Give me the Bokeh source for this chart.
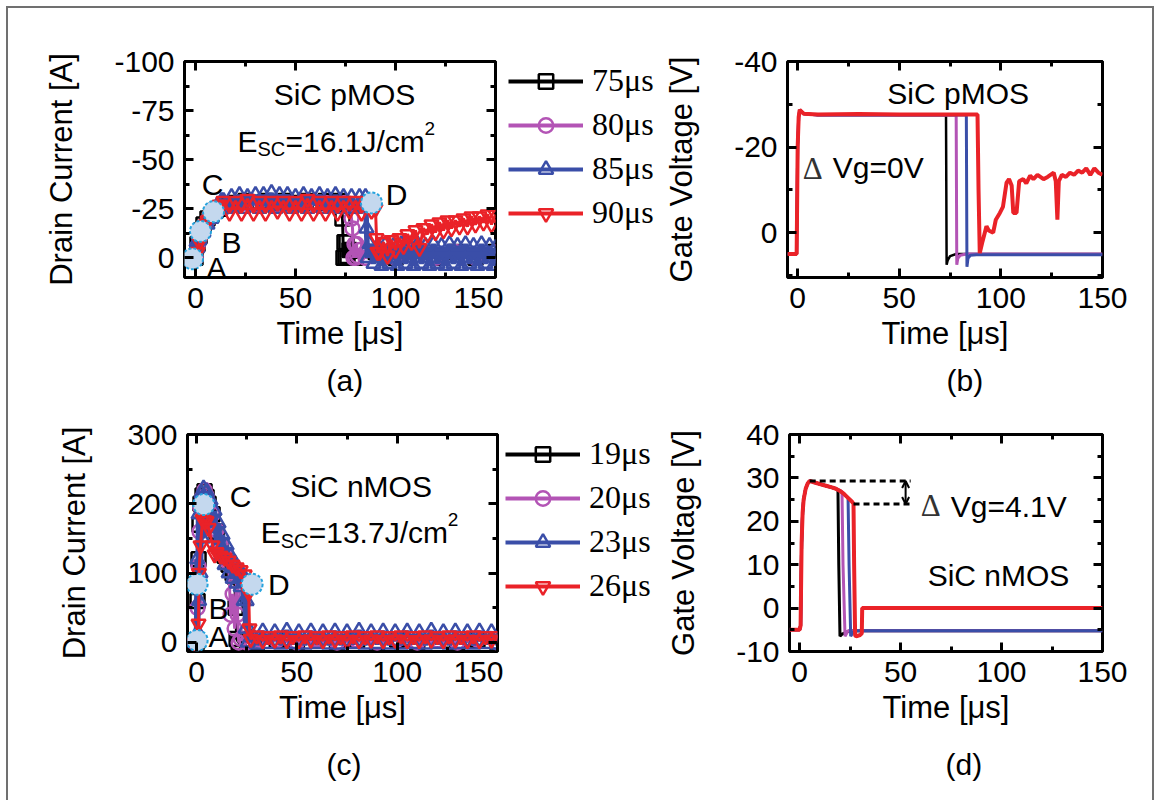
from bokeh.plotting import figure
from bokeh.models import (Range1d, FixedTicker, LinearAxis, Legend, LegendItem,
                          Title, Arrow, OpenHead)
from bokeh.layouts import column, row
from bokeh.embed import file_html
from bokeh.resources import INLINE
from bokeh.core.properties import value

# ---------------- data ----------------
series_a = ["75μs", "80μs", "85μs", "90μs"]
series_c = ["19μs", "20μs", "23μs", "26μs"]

x_ticks = [0, 50, 100, 150]
x_labels = ["0", "50", "100", "150"]
x_minor = [25, 75, 125]
ya_ticks = [-100, -75, -50, -25, 0]
ya_labels = ["-100", "-75", "-50", "-25", "0"]
ya_minor = [-87.5, -62.5, -37.5, -12.5]
yb_ticks = [-40, -20, 0]
yb_labels = ["-40", "-20", "0"]
yb_minor = [-30, -10, 10]
yc_ticks = [0, 100, 200, 300]
yc_labels = ["0", "100", "200", "300"]
yc_minor = [50, 150, 250]
yd_ticks = [-10, 0, 10, 20, 30, 40]
yd_labels = ["-10", "0", "10", "20", "30", "40"]
yd_minor = [-5, 5, 15, 25, 35]

# (a) pMOS drain current
t_a75 = [0, 1, 2, 3, 4, 6, 8, 10, 12, 15, 20, 25, 30, 35, 40, 45, 50, 55, 60, 65, 70, 72,
         73, 73.5, 74, 74.5, 75, 75.5, 76, 77, 80, 90, 100, 110, 120, 130, 140, 150]
i_a75 = [0, -7, -11, -14, -17, -20, -22, -24, -25, -27, -28, -29, -28, -29, -28, -29, -28, -29, -28, -29, -28, -29,
         -27, -20, 0, -8, 0, -8, -1, -4, 0, -3, 0, -4, 0, -3, 0, -3]
t_a80 = [0, 1, 2, 3, 4, 6, 8, 10, 12, 15, 20, 25, 30, 35, 40, 45, 50, 55, 60, 65, 70, 75,
         77, 78, 78.5, 79, 79.5, 80, 80.5, 81, 82, 85, 90, 100, 110, 120, 130, 140, 150]
i_a80 = [0, -6, -10, -14, -16, -19, -22, -23, -25, -26, -27, -28, -27, -28, -27, -28, -27, -28, -27, -28, -27, -28,
         -27, -20, -15, 0, -7, 0, -7, -1, -4, 0, -3, 0, -4, 0, -3, 0, -3]
t_a85 = [0, 0.5, 1, 1.5, 2, 3, 4, 5, 6, 7, 8, 9, 10, 11, 12, 13,
         14, 16, 18, 20, 22, 24, 26, 28, 30, 32, 34, 36, 38, 40, 42, 44, 46, 48, 50, 52, 54, 56, 58, 60,
         62, 64, 66, 68, 70, 72, 74, 76, 78, 80, 82, 84, 85, 85.5, 86,
         87, 89, 91, 93, 95, 97, 99, 101, 103, 105, 107, 109, 111, 113, 115, 117, 119, 121, 123, 125,
         127, 129, 131, 133, 135, 137, 139, 141, 143, 145, 147, 149, 150]
i_a85 = [0, -8, -5, -12, -9, -16, -13, -19, -17, -22, -20, -25, -23, -27, -25, -29,
         -29, -25, -31, -26, -32, -25, -31, -27, -32, -25, -32, -26, -33, -25, -32, -27, -32, -25, -31, -26, -32, -25, -31, -27,
         -32, -25, -31, -26, -32, -25, -31, -27, -31, -25, -31, -26, -31, -15, 0,
         -7, 3, -6, 4, -7, 3, -6, 4, -7, 3, -6, 4, -7, 3, -6, 4, -7, 3, -6, 4,
         -7, 3, -6, 4, -7, 3, -6, 4, -7, 3, -6, 4, -5]
t_a90 = [0, 1, 2, 3, 4, 5, 6, 7, 8, 9, 10, 12,
         14, 17, 20, 23, 26, 29, 32, 35, 38, 41, 44, 47, 50, 53, 56, 59, 62, 65, 68, 71, 74, 77, 80, 83, 86, 88,
         89, 90, 90.5, 91,
         92, 94, 96, 98, 100, 102, 104, 106, 108, 110, 112, 114, 116, 118, 120, 122, 124, 126, 128, 130,
         132, 134, 136, 138, 140, 142, 144, 146, 148, 150]
i_a90 = [0, -3, -8, -11, -14, -17, -19, -21, -22, -24, -25, -27,
         -29, -23, -29, -23, -30, -23, -29, -23, -29, -24, -29, -23, -29, -23, -30, -23, -29, -23, -29, -23, -29, -24, -29, -23, -28, -24,
         -28, -25, -10, -3,
         -3, -8, -1, -9, -4, -10, -6, -12, -8, -14, -5, -15, -12, -17, -13, -18, -14, -19, -15, -19,
         -16, -20, -16, -21, -17, -21, -18, -22, -17, -22]
pts_a_t = [-1.5, 2.5, 9, 88]
pts_a_i = [0.5, -13.5, -23.5, -28]
pts_a_lbl = ["A", "B", "C", "D"]
lbl_a_t = [10.5, 18, 8.5, 100.5]
lbl_a_i = [5, -7.6, -37.6, -32.5]

# (b) pMOS gate voltage
t_b75 = [-5, -0.5, 0, 0.5, 1, 3, 10, 40, 73, 73.3, 73.8, 75, 78, 150]
v_b75 = [5, 5, -20, -27, -28.7, -27.8, -27.5, -27.5, -27.5, 7.5, 6.5, 5.5, 5, 5]
t_b80 = [-5, -0.5, 0, 0.5, 1, 3, 10, 40, 78, 78.3, 78.8, 80, 83, 150]
v_b80 = [5, 5, -20, -27, -28.7, -27.8, -27.5, -27.5, -27.5, 7.5, 6, 5.3, 5, 5]
t_b85 = [-5, -0.5, 0, 0.5, 1, 3, 10, 40, 83, 83.3, 83.8, 85, 88, 150]
v_b85 = [5, 5, -20, -27, -28.7, -27.8, -27.5, -27.5, -27.5, 8, 6, 5.3, 5.2, 5.2]
t_b90 = [-5, -0.5, 0, 0.5, 1, 3, 10, 30, 50, 70,
         88.5, 89, 89.6, 91, 92.9, 94, 96.2, 97.5, 99.5, 101,
         102.8, 104, 105.3, 106.1, 107.7, 109, 111, 112.5, 114.4, 116,
         118, 121, 123, 126, 127, 127.8, 128.5, 130, 132, 134,
         136, 138, 140, 142, 144, 146, 148, 150]
v_b90 = [5, 5, -20, -27, -28.7, -27.8, -27.6, -27.7, -27.6, -27.6,
         -27.6, -10, 4.8, 2, -1.5, -0.5, 0, -3, -4.6, -6,
         -11.7, -12.5, -11, -4.6, -4.6, -12, -12.5, -11.5, -13.3, -12.5,
         -13.5, -12.5, -13, -14, -12, -3, -12, -13.5, -13, -14,
         -13.5, -14.5, -14, -15, -13.5, -15, -14, -13.5]

# (c) nMOS drain current
t_c19 = [-1, 0, 0.5, 1, 1.5, 2, 3, 4, 5, 6, 8, 10, 12, 14, 16, 18, 19, 19.5, 20, 21, 25, 30,
         40, 50, 60, 70, 80, 90, 100, 110, 120, 130, 140, 150]
i_c19 = [0, 0, 60, 120, 170, 200, 212, 218, 210, 200, 185, 160, 140, 125, 112, 100, 95, 50, 5, 0, 4, 0,
         3, 0, 4, 0, 3, 0, 4, 0, 3, 0, 4, 0]
t_c20 = [-1, 0, 0.5, 1, 1.5, 2, 3, 4, 5, 6, 8, 10, 12, 14, 16, 17, 18, 19, 20, 20.5, 21, 22, 25, 30,
         40, 50, 60, 70, 80, 90, 100, 110, 120, 130, 140, 150]
i_c20 = [0, 0, 50, 110, 160, 195, 210, 220, 212, 200, 185, 162, 142, 126, 114, 40, 70, 20, 98, 40, 0, 5, 0, 4,
         3, 0, 4, 0, 3, 0, 4, 0, 3, 0, 4, 0]
t_c23 = [-1, 0, 0.3, 0.6, 1, 1.3, 1.6, 2, 2.5, 3, 3.5, 4, 5, 6, 7, 8, 9, 10, 11, 12,
         13, 14, 15, 16, 17, 18, 19, 20, 21, 22, 23, 23.5, 24, 24.5, 25, 25.5,
         27, 30, 33, 36, 39, 42, 45, 48, 51, 54, 57, 60, 63, 66, 69, 72, 75, 78, 81, 84,
         87, 90, 93, 96, 99, 102, 105, 108, 111, 114, 117, 120, 123, 126, 129, 132, 135, 138, 141, 144, 147, 150]
i_c23 = [0, 0, 120, 15, 185, 60, 205, 100, 215, 150, 222, 185, 218, 185, 205, 165, 190, 140, 172, 125,
         155, 112, 140, 100, 125, 92, 115, 85, 105, 80, 98, 60, 90, 20, 60, 0,
         15, -3, 16, -2, 15, -3, 17, -2, 15, -3, 16, -2, 15, -3, 16, -3, 15, -2, 17, -3,
         15, -2, 16, -3, 15, -3, 16, -2, 15, -3, 17, -2, 15, -3, 16, -2, 15, -3, 16, -2, 15, -3]
t_c26 = [-1, 0, 0.8, 1, 1.2, 2, 3, 4, 5, 6, 8, 9, 10, 12, 14, 16, 18, 20, 22, 24, 25.5, 26, 26.4, 27,
         30, 33, 36, 39, 42, 45, 48, 51, 54, 57, 60, 63, 66, 69, 72, 75, 78, 81, 84, 87,
         90, 93, 96, 99, 102, 105, 108, 111, 114, 117, 120, 123, 126, 129, 132, 135, 138, 141, 144, 147, 150]
i_c26 = [0, 0, 2, 27, 100, 140, 178, 176, 175, 165, 140, 127, 130, 125, 122, 118, 112, 108, 104, 98, 80, 72, 20, 5,
         10, 3, 9, 4, 10, 3, 9, 3, 10, 4, 9, 3, 10, 4, 9, 3, 10, 3, 9, 4,
         10, 3, 9, 4, 10, 3, 9, 3, 10, 4, 9, 3, 10, 4, 9, 3, 10, 3, 9, 4, 9]
pts_c_t = [0.3, 0.3, 3.6, 27.7]
pts_c_i = [3, 84, 199, 84]
pts_c_lbl = ["A", "B", "C", "D"]
lbl_c_t = [11, 11, 22, 41]
lbl_c_i = [8, 49, 211, 84]

# (d) nMOS gate voltage
t_d19 = [-5, 0, 0.5, 1, 1.5, 2, 3, 4, 5, 7, 10, 13, 16, 18, 19, 19.4, 20, 21, 25, 150]
v_d19 = [-5, -5, -4, 15, 22, 25, 27.5, 28.7, 29.3, 29, 28.6, 28.2, 27.8, 27.5, 27.2, 10, -6.5, -6, -5.2, -5.2]
t_d20 = [-5, 0, 0.5, 1, 1.5, 2, 3, 4, 5, 7, 10, 13, 16, 18, 20, 21, 21.5, 22.5, 24, 150]
v_d20 = [-5, -5, -4, 15, 22, 25, 27.5, 28.7, 29.3, 29, 28.6, 28.2, 27.8, 27.5, 27.1, 26.8, 10, -6.5, -5.2, -5.2]
t_d23 = [-5, 0, 0.5, 1, 1.5, 2, 3, 4, 5, 7, 10, 13, 16, 18, 20, 22, 24, 24.5, 25.3, 27, 150]
v_d23 = [-5, -5, -4, 15, 22, 25, 27.5, 28.7, 29.3, 29, 28.6, 28.2, 27.8, 27.5, 27, 26.2, 25.4, 10, -6.5, -5.2, -5.2]
t_d26 = [-5, 0, 0.5, 1, 1.5, 2, 3, 4, 5, 7, 10, 13, 16, 18, 20, 22, 24, 26, 26.7, 27, 27.5, 28, 30, 30.8, 31,
         40, 60, 80, 100, 120, 150]
v_d26 = [-5, -5, -4, 15, 22, 25, 27.5, 28.7, 29.3, 29, 28.6, 28.2, 27.8, 27.5, 27, 26.3, 25.4, 24.5, 24.0, 10,
         -6.3, -6.5, -6.2, -5.8, 0, 0, 0, 0, 0, 0, 0]
dv_top_t = [5, 55]
dv_top_v = [29.3, 29.3]
dv_bot_t = [26.7, 55]
dv_bot_v = [24.0, 24.0]

# ---------------- style ----------------
SANS = "Liberation Sans"
SERIF = "Liberation Serif"
COLORS = ["#000000", "#b354b5", "#3a4ea8", "#ea2228"]
MARKERS = ["square", "circle", "triangle", "inverted_triangle"]
WIDTHS = [3, 3, 5.5, 3]
PT_FILL = "#c4d8ee"
PT_LINE = "#27a4de"


def make_fig(xr, yr, w, h, bl, br, bt, bb):
    p = figure(width=w, height=h, x_range=Range1d(*xr), y_range=Range1d(*yr),
               output_backend="svg", toolbar_location=None,
               min_border_left=bl, min_border_right=br, min_border_top=bt, min_border_bottom=bb)
    p.grid.visible = False
    p.outline_line_color = "black"
    p.outline_line_width = 3
    p.outline_line_alpha = 1
    p.background_fill_color = "white"
    p.border_fill_color = "white"
    return p


def setup_axes(p, yt, ylab, ym, ylabel):
    xtk = FixedTicker(ticks=x_ticks, minor_ticks=x_minor)
    ytk = FixedTicker(ticks=yt, minor_ticks=ym)
    xa = p.below[0]
    ya = p.left[0]
    xa.ticker = xtk
    ya.ticker = ytk
    xa.major_label_overrides = {float(k): s for k, s in zip(x_ticks, x_labels)}
    ya.major_label_overrides = {float(k): s for k, s in zip(yt, ylab)}
    ra = LinearAxis(ticker=ytk)
    ta = LinearAxis(ticker=xtk)
    p.add_layout(ra, "right")
    p.add_layout(ta, "above")
    for ax in (xa, ya, ra, ta):
        ax.axis_line_color = None
        ax.major_tick_in = 9
        ax.major_tick_out = 0
        ax.minor_tick_in = 5
        ax.minor_tick_out = 0
        ax.major_tick_line_width = 3
        ax.minor_tick_line_width = 3
        ax.major_tick_line_color = "black"
        ax.minor_tick_line_color = "black"
        ax.major_label_text_font = SANS
        ax.major_label_text_font_size = "30px"
        ax.major_label_text_color = "black"
        ax.major_label_standoff = 10
        ax.axis_label_text_font = SANS
        ax.axis_label_text_font_size = "31px"
        ax.axis_label_text_font_style = "normal"
        ax.axis_label_text_color = "black"
    ra.major_label_overrides = {float(k): "" for k in yt}
    ta.major_label_overrides = {float(k): "" for k in x_ticks}
    for ax in (ra, ta):
        ax.major_label_text_font_size = "0px"
        ax.major_label_standoff = 0
    xa.axis_label = "Time [μs]"
    xa.axis_label_standoff = 5
    ya.axis_label = ylabel
    ya.axis_label_standoff = 32


def txt(p, x, y, s, size="30px", align="center", dx=0, dy=0, font=SANS, color="black"):
    p.text(x=[x], y=[y], text=[s], text_font=value(font), text_font_size=value(size),
           text_align=align, text_baseline="middle", x_offset=dx, y_offset=dy, text_color=color)


def panel_label(p, s, off, standoff):
    p.add_layout(Title(text=s, align="left", offset=off, text_font=SANS, text_font_size="30px",
                       text_font_style="normal", text_color="black", standoff=standoff,
                       vertical_align="middle"), "below")


def esc(p, x, y, rest):
    txt(p, x, y, "E", align="left")
    txt(p, x, y, "SC", size="20px", align="left", dx=20, dy=8)
    txt(p, x, y, rest, align="left", dx=48)
    txt(p, x, y, "2", size="19px", align="left", dx=187, dy=-13)


def traces(p, ts, vs, with_markers):
    for t, v, c, m, w in zip(ts, vs, COLORS, MARKERS, WIDTHS):
        p.line(t, v, line_color=c, line_width=w)
        if with_markers:
            p.scatter(t, v, marker=m, size=14, fill_color=None, line_color=c, line_width=2.5)


def legend_fig(ts, vs, names, w, h, loc):
    # a bare plot (no axes) that only carries the legend, placed beside the panel.
    # Plots in one row share frame top/bottom, so the legend location is measured
    # from the (aligned) frame bottom.
    p = figure(width=w, height=h, x_range=Range1d(1000, 1001), y_range=Range1d(1000, 1001),
               x_axis_type=None, y_axis_type=None,
               output_backend="svg", toolbar_location=None, min_border=0,
               min_border_left=0, min_border_right=0, min_border_top=0, min_border_bottom=0)
    p.grid.visible = False
    p.outline_line_color = None
    p.background_fill_color = "white"
    p.border_fill_color = "white"
    items = []
    for t, v, c, m, n in zip(ts, vs, COLORS, MARKERS, names):
        r1 = p.line(t, v, line_color=c, line_width=4)
        r2 = p.scatter(t, v, marker=m, size=14, fill_color=None, line_color=c, line_width=2.5)
        items.append(LegendItem(label=n, renderers=[r1, r2]))
    lg = Legend(items=items, location=loc, orientation="vertical",
                glyph_width=75, glyph_height=36, label_height=36, spacing=7,
                padding=0, margin=0, border_line_color=None, background_fill_alpha=0,
                label_text_font=SERIF, label_text_font_size="32px", label_standoff=9,
                label_text_color="black")
    p.add_layout(lg)
    return p


def points(p, pt, pi, lt, li, labels):
    p.scatter(pt, pi, marker="circle", size=21, fill_color=PT_FILL, line_color=PT_LINE,
              line_width=2, line_dash="3 2")
    p.text(x=lt, y=li, text=labels, text_font=value(SANS), text_font_size=value("30px"),
           text_align="center", text_baseline="middle", text_color="black")


# ---------------- (a) ----------------
pa = make_fig((-5.5, 150), (10, -100), 495, 402, 176, 8, 53, 133)
setup_axes(pa, ya_ticks, ya_labels, ya_minor, "Drain Current [A]")
traces(pa, [t_a75, t_a80, t_a85, t_a90], [i_a75, i_a80, i_a85, i_a90], True)
points(pa, pts_a_t, pts_a_i, lbl_a_t, lbl_a_i, pts_a_lbl)
txt(pa, 74.5, -83, "SiC pMOS")
esc(pa, 21, -59.4, "=16.1J/cm")
panel_label(pa, "(a)", 142, 18)
la = legend_fig([t_a75, t_a80, t_a85, t_a90], [i_a75, i_a80, i_a85, i_a90], series_a, 155, 402, (5, 46))

# ---------------- (b) ----------------
pb = make_fig((-5, 150), (10.5, -40), 494, 402, 129, 50, 53, 133)
setup_axes(pb, yb_ticks, yb_labels, yb_minor, "Gate Voltage [V]")
pb.line(t_b75, v_b75, line_color=COLORS[0], line_width=2.5)
pb.line(t_b80, v_b80, line_color=COLORS[1], line_width=3)
pb.line(t_b85, v_b85, line_color=COLORS[2], line_width=3)
pb.line(t_b90, v_b90, line_color=COLORS[3], line_width=4)
txt(pb, 79, -32.5, "SiC pMOS")
txt(pb, 2.5, -15.0, "Δ", size="31px", align="left", font=SERIF, color="#333333")
txt(pb, 2.5, -15.2, "Vg=0V", align="left", dx=30)
panel_label(pb, "(b)", 159, 18)

# ---------------- (c) ----------------
pc = make_fig((-4.5, 150), (-13, 300), 495, 390, 179, 6, 24, 148)
setup_axes(pc, yc_ticks, yc_labels, yc_minor, "Drain Current [A]")
traces(pc, [t_c19, t_c20, t_c23, t_c26], [i_c19, i_c20, i_c23, i_c26], True)
points(pc, pts_c_t, pts_c_i, lbl_c_t, lbl_c_i, pts_c_lbl)
txt(pc, 82, 225, "SiC nMOS")
esc(pc, 32, 158, "=13.7J/cm")
panel_label(pc, "(c)", 139, 38)
lc = legend_fig([t_c19, t_c20, t_c23, t_c26], [i_c19, i_c20, i_c23, i_c26], series_c, 155, 390, (2, 47))

# ---------------- (d) ----------------
pd = make_fig((-5, 150), (-10, 40), 494, 390, 131, 50, 24, 148)
setup_axes(pd, yd_ticks, yd_labels, yd_minor, "Gate Voltage [V]")
pd.line(t_d19, v_d19, line_color=COLORS[0], line_width=3)
pd.line(t_d20, v_d20, line_color=COLORS[1], line_width=3)
pd.line(t_d23, v_d23, line_color=COLORS[2], line_width=3)
pd.line(t_d26, v_d26, line_color=COLORS[3], line_width=4)
pd.line(dv_top_t, dv_top_v, line_color="black", line_width=3, line_dash="6 4")
pd.line(dv_bot_t, dv_bot_v, line_color="black", line_width=3, line_dash="6 4")
pd.add_layout(Arrow(start=OpenHead(size=7, line_width=2), end=OpenHead(size=7, line_width=2),
                    x_start=52.5, y_start=dv_bot_v[0], x_end=52.5, y_end=dv_top_v[0],
                    line_width=2, line_color="black"))
txt(pd, 60, 23.6, "Δ", size="31px", align="left", font=SERIF, color="#333333")
txt(pd, 60, 23.3, "Vg=4.1V", align="left", dx=30)
txt(pd, 98.5, 7.4, "SiC nMOS")
panel_label(pd, "(d)", 156, 38)

layout = column(row(pa, la, pb), row(pc, lc, pd), margin=(8, 0, 0, 8),
                styles={"box-shadow": "0 0 0 2px #707070"})

with open("out.html", "w") as f:
    f.write(file_html(layout, INLINE))
